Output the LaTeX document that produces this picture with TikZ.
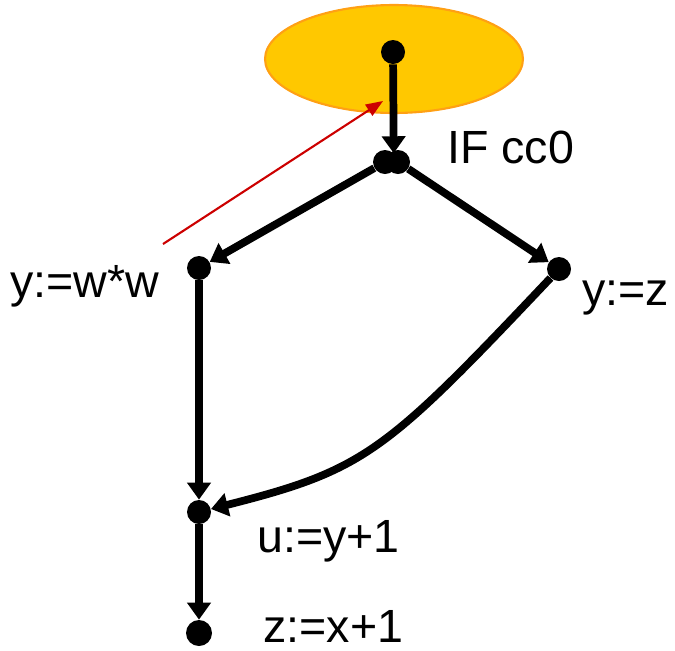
\documentclass[tikz,border=0pt]{standalone}
\usepackage{fontspec}
\setmainfont{Liberation Sans}
\usepackage{tikz}
\usetikzlibrary{arrows.meta, shapes.geometric}
\definecolor{condfill}{RGB}{255,200,0}
\definecolor{conddraw}{RGB}{255,160,20}
\definecolor{hintred}{RGB}{204,0,0}

\begin{document}
\begin{tikzpicture}[
  x=0.02cm, y=-0.02cm,
  dot/.style={circle, fill=black, inner sep=0pt, minimum size=0.48cm},
  lbl/.style={inner sep=0pt, anchor=base west,
              font=\fontsize{26.5}{30}\selectfont},
  cond/.style={ellipse, fill=condfill, draw=conddraw, line width=1.2pt,
               minimum width=5.16cm, minimum height=2.16cm},
  edge/.style={line width=4.4pt, -{Triangle[length=0.34cm, width=0.46cm]}},
  hint/.style={hintred, line width=1.2pt,
               -{Triangle[length=0.34cm, width=0.26cm]}}
]
\useasboundingbox (0,0) rectangle (675,650);

%--- Region ---
\node[cond] (region) at (394,59) {};

%--- Nodes ---
\node[dot]            (start) at (393,52)  {};
\node[dot]            (ifl)   at (385,162) {};
\node[dot]            (ifr)   at (398,162) {};
\node[dot]            (yww)   at (199,268) {};
\node[dot]            (yz)    at (559,269) {};
\node[dot]            (uy)    at (199,512) {};
\node[dot, minimum size=0.52cm] (zx) at (199,633) {};

%--- Labels ---
\node[lbl] (lif)  at (447,163) {IF cc0};
\node[lbl] (lyww) at (10,297)  {y:=w*w};
\node[lbl] (lyz)  at (582,305) {y:=z};
\node[lbl] (luy)  at (257,552) {u:=y+1};
\node[lbl] (lzx)  at (263,642) {z:=x+1};

%--- Edges ---
\draw[edge] (start) -- (ifl.45);
\draw[edge] (ifl) -- (yww);
\draw[edge] (ifr) -- (yz);
\draw[edge] (yww) -- (uy);
\draw[edge] (yz) .. controls (385,453) and (365,470) .. (uy);
\draw[edge] (uy) -- (zx);

%--- Pointer ---
\coordinate (hinttail) at (163,244);
\coordinate (hinttip)  at (383,101);
\draw[hint] (hinttail) -- (hinttip);

\end{tikzpicture}
\end{document}
